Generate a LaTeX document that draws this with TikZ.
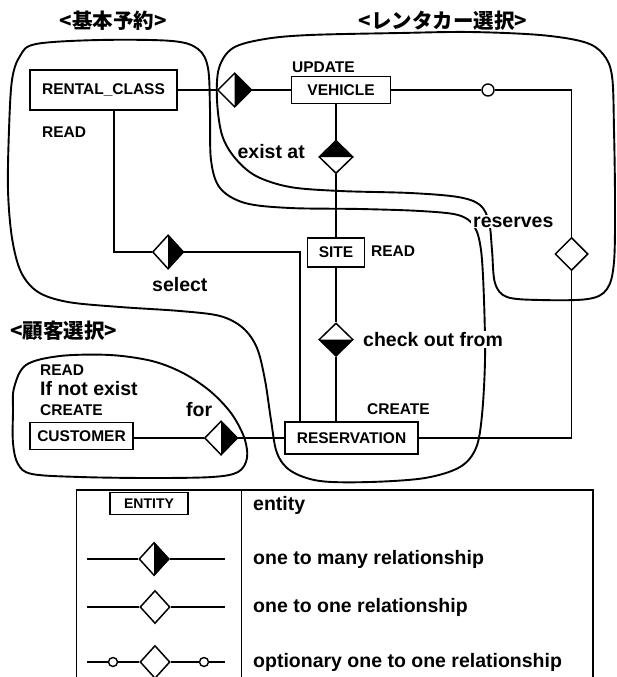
\documentclass[tikz,border=0pt]{standalone}
\usepackage{fontspec}
\setmainfont{Liberation Sans}
\newfontfamily\jpfnt{Noto Sans CJK JP}
\usetikzlibrary{shapes.geometric}
\newcommand\capfnt{\fontsize{15.5}{17}\selectfont\bfseries}
\newcommand\lblfnt{\fontsize{19.5}{22}\selectfont\bfseries}
\newcommand\ttlfnt{\jpfnt\fontsize{20.5}{22}\selectfont\bfseries}
\begin{document}
\begin{tikzpicture}[x=1pt,y=-1pt,
  ent/.style={draw, line width=1.6pt, fill=white, inner sep=0pt, font=\capfnt},
  rel/.style={diamond, draw, line width=1.5pt, fill=white, inner sep=0pt, minimum width=34pt, minimum height=34pt},
  conn/.style={line width=1.5pt},
  blob/.style={line width=1.9pt, line join=round},
  capl/.style={font=\capfnt, inner sep=0pt, anchor=base west},
  lbl/.style={font=\lblfnt, inner sep=0pt, anchor=base west},
  ttl/.style={font=\ttlfnt, inner sep=0pt},
  opt/.style={circle, draw, line width=1.4pt, fill=white, minimum size=12pt, inner sep=0pt}
]
\useasboundingbox[fill=white] (0,0) rectangle (616,677);

% ---- groupings (hand drawn outlines)
\draw[blob] plot[smooth cycle, tension=0.55] coordinates {(36,44) (100,40) (172,41) (198,49) (208,68) (210,110) (211,160) (220,188) (245,203) (290,208) (360,209) (420,211) (458,215) (474,226) (481,250) (484,300) (485,360) (482,415) (476,448) (460,467) (425,478) (370,482) (320,481) (291,471) (277,453) (271,420) (265,380) (257,348) (243,328) (220,316) (180,311) (120,307) (68,302) (38,292) (21,272) (12,238) (8,190) (9,130) (12,80) (20,56)};
\draw[blob] plot[smooth cycle, tension=0.55] coordinates {(217,100) (219,68) (233,48) (265,39) (310,35) (400,33) (470,32) (540,35) (584,42) (603,54) (612,76) (614,130) (615,200) (614,262) (607,289) (588,299) (540,300) (507,297) (495,283) (492,250) (489,222) (480,205) (458,197) (410,193) (340,191) (290,187) (256,176) (235,158) (222,135)};
\draw[blob] plot[smooth cycle, tension=0.55] coordinates {(14,388) (26,365) (60,356) (110,355) (152,361) (183,373) (210,391) (231,413) (244,437) (247,458) (238,472) (212,477) (150,478) (80,477) (32,474) (18,464) (13,443) (13,412)};

% ---- titles
\node[ttl] (t1) at (113,21) {<基本予約>};
\node[ttl] (t2) at (443,21) {<レンタカー選択>};
\node[ttl] (t3) at (64,330.5) {<顧客選択>};

% ---- entities
\node[ent, minimum width=147pt, minimum height=40pt] (rc) at (103.5,90) {RENTAL\_CLASS};
\node[ent, minimum width=99pt, minimum height=27pt] (veh) at (341,90) {VEHICLE};
\node[ent, minimum width=57pt, minimum height=29pt] (site) at (336,252.5) {SITE};
\node[ent, minimum width=133pt, minimum height=32pt] (res) at (351.5,438) {RESERVATION};
\node[ent, minimum width=103pt, minimum height=27pt] (cust) at (81.5,436) {CUSTOMER};

% ---- relationships
\node[rel] (d1) at (234.5,90) {};
\node[rel, minimum height=33pt] (d2) at (336,157) {};
\node[rel, minimum width=31pt] (d4) at (168,252) {};
\node[rel, minimum height=33pt] (d3) at (336,339.5) {};
\node[rel, minimum width=33pt] (d5) at (221,438) {};
\node[rel, minimum width=33pt, minimum height=33pt] (dR) at (571.5,254) {};
\node[opt] (c1) at (488,90) {};

% ---- connectors
\draw[conn] (rc.east) -- (d1.west);
\draw[conn] (d1.east) -- (veh.west);
\draw[conn] (veh.east) -- (c1.west);
\draw[conn] (c1.east) -| (dR.north);
\draw[conn] (dR.south) |- (res.east);
\draw[conn] (d2.north) -- (d2.north |- veh.south);
\draw[conn] (d2.south) -- (site.north);
\draw[conn] (site.south) -- (d3.north);
\draw[conn] (d3.south) -- (d3.south |- res.north);
\draw[conn] (d4.east) -| ([xshift=16pt]res.north west);
\draw[conn] (d4.west) -| ([xshift=10.5pt]rc.south);
\draw[conn] (d5.west) -- (d5.west -| cust.east);
\draw[conn] (d5.east) -- (res.west);

\fill (d1.north) -- (d1.east) -- (d1.south) -- cycle;
\fill (d2.west) -- (d2.north) -- (d2.east) -- cycle;
\fill (d3.west) -- (d3.south) -- (d3.east) -- cycle;
\fill (d4.north) -- (d4.east) -- (d4.south) -- cycle;
\fill (d5.north) -- (d5.east) -- (d5.south) -- cycle;

% ---- labels
\node[capl] (l1) at (42,137) {READ};
\node[capl] (l2) at (292,72.5) {UPDATE};
\node[lbl, anchor=base east] (l3) at (305,158.3) {exist at};
\node[capl] (l4) at (371,256.5) {READ};
\node[lbl] (l5) at (152,291) {select};
\node[lbl, fill=white, inner xsep=2pt, inner ysep=1pt] (l6) at (471,227) {reserves};
\node[lbl, fill=white, inner xsep=2pt, inner ysep=1pt] (l7) at (361,346.5) {check out from};
\node[capl] (l8) at (367,414) {CREATE};
\node[capl] (l9) at (40,375) {READ};
\node[lbl] (l10) at (40,395) {If not exist};
\node[capl] (l11) at (40,415) {CREATE};
\node[lbl] (l12) at (186,416.5) {for};

% ---- legend
\draw[line width=1.5pt] (76.7,700) -- (76.7,490) -- (593,490) -- (593,700);
\draw[line width=1.5pt] (241.7,490) -- (241.7,700);
\node[ent, font=\fontsize{14}{16}\selectfont\bfseries, minimum width=78pt, minimum height=22pt] (le) at (149,503.5) {ENTITY};
\node[lbl] (t4) at (253,510.5) {entity};

\coordinate (a2) at (87,559); \coordinate (b2) at (225,559);
\node[rel, minimum width=30pt, minimum height=33pt] (ld2) at (154,559) {};
\draw[conn] (a2) -- (ld2.west); \draw[conn] (ld2.east) -- (b2);
\fill (ld2.north) -- (ld2.east) -- (ld2.south) -- cycle;
\node[lbl] (t5) at (253,564) {one to many relationship};

\coordinate (a3) at (87,607); \coordinate (b3) at (225,607);
\node[rel, minimum width=30pt, minimum height=33pt] (ld3) at (155,607) {};
\draw[conn] (a3) -- (ld3.west); \draw[conn] (ld3.east) -- (b3);
\node[lbl] (t6) at (253,612) {one to one relationship};

\coordinate (a4) at (87,662); \coordinate (b4) at (225,662);
\node[rel, minimum width=30pt, minimum height=33pt] (ld4) at (155,662) {};
\node[opt, minimum size=9pt] (lc1) at (113,662) {};
\node[opt, minimum size=9pt] (lc2) at (204,662) {};
\draw[conn] (a4) -- (lc1.west); \draw[conn] (lc1.east) -- (ld4.west);
\draw[conn] (ld4.east) -- (lc2.west); \draw[conn] (lc2.east) -- (b4);
\node[lbl] (t7) at (253,667) {optionary one to one relationship};
\end{tikzpicture}
\end{document}
